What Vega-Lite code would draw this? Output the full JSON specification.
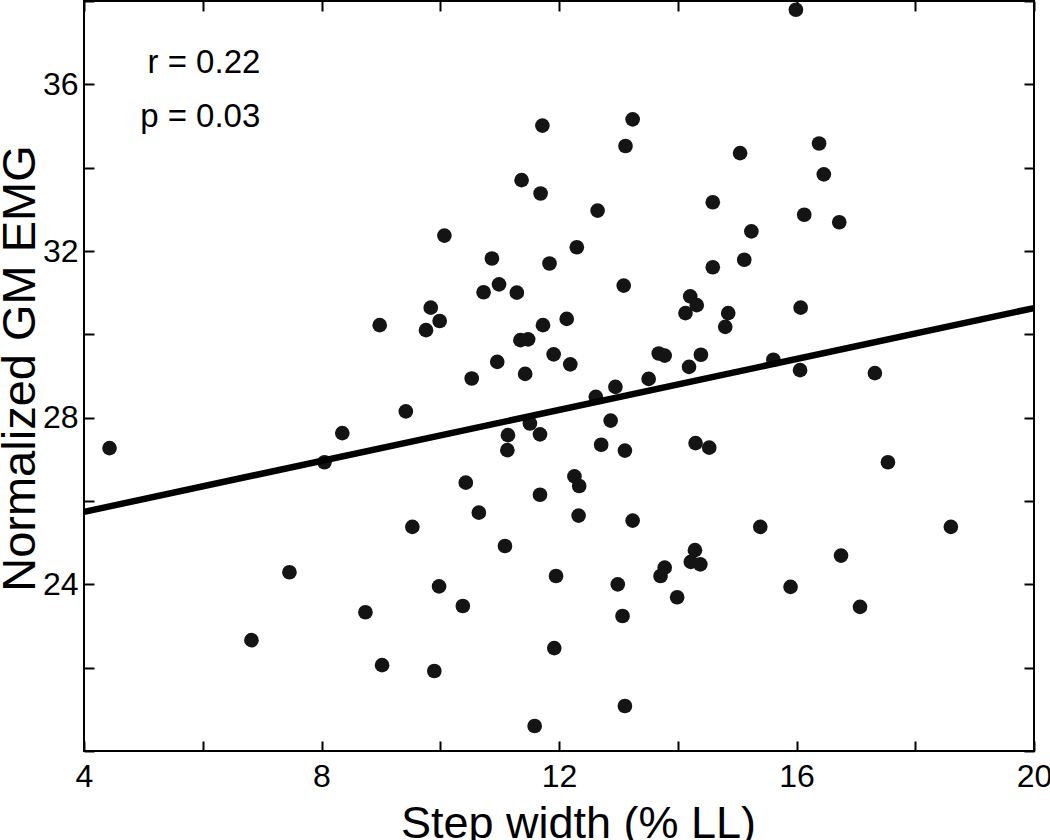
{
  "$schema": "https://vega.github.io/schema/vega-lite/v6.json",
  "width": 950,
  "height": 750,
  "autosize": "none",
  "padding": {"left": 84, "top": 1, "right": 16, "bottom": 89},
  "background": "white",
  "config": {
    "view": {"stroke": "black", "strokeWidth": 2},
    "font": "Liberation Sans",
    "axis": {
      "grid": false,
      "domain": false,
      "tickColor": "black",
      "tickWidth": 2,
      "tickSize": -10,
      "labelColor": "black",
      "labelFont": "Liberation Sans",
      "labelFontSize": 32,
      "labelFlush": false,
      "labelOverlap": false,
      "titleColor": "black",
      "titleFont": "Liberation Sans",
      "titleFontSize": 45,
      "titleFontWeight": "normal"
    }
  },
  "datasets": {
    "points": [
      {"step_width": 4.43, "gm_emg": 27.27},
      {"step_width": 6.82, "gm_emg": 22.66},
      {"step_width": 7.46, "gm_emg": 24.29},
      {"step_width": 8.05, "gm_emg": 26.93},
      {"step_width": 8.35, "gm_emg": 27.63},
      {"step_width": 8.74, "gm_emg": 23.33},
      {"step_width": 8.98, "gm_emg": 30.22},
      {"step_width": 9.02, "gm_emg": 22.06},
      {"step_width": 9.42, "gm_emg": 28.15},
      {"step_width": 9.53, "gm_emg": 25.38},
      {"step_width": 9.76, "gm_emg": 30.10},
      {"step_width": 9.84, "gm_emg": 30.64},
      {"step_width": 9.90, "gm_emg": 21.92},
      {"step_width": 9.98, "gm_emg": 23.95},
      {"step_width": 9.99, "gm_emg": 30.32},
      {"step_width": 10.07, "gm_emg": 32.37},
      {"step_width": 10.38, "gm_emg": 23.48},
      {"step_width": 10.43, "gm_emg": 26.44},
      {"step_width": 10.53, "gm_emg": 28.94},
      {"step_width": 10.65, "gm_emg": 25.72},
      {"step_width": 10.73, "gm_emg": 31.01},
      {"step_width": 10.87, "gm_emg": 31.82},
      {"step_width": 10.96, "gm_emg": 29.34},
      {"step_width": 10.99, "gm_emg": 31.20},
      {"step_width": 11.09, "gm_emg": 24.92},
      {"step_width": 11.13, "gm_emg": 27.22},
      {"step_width": 11.14, "gm_emg": 27.58},
      {"step_width": 11.29, "gm_emg": 31.00},
      {"step_width": 11.35, "gm_emg": 29.86},
      {"step_width": 11.37, "gm_emg": 33.70},
      {"step_width": 11.43, "gm_emg": 29.05},
      {"step_width": 11.48, "gm_emg": 29.88},
      {"step_width": 11.51, "gm_emg": 27.86},
      {"step_width": 11.59, "gm_emg": 20.60},
      {"step_width": 11.68, "gm_emg": 27.60},
      {"step_width": 11.68, "gm_emg": 26.15},
      {"step_width": 11.69, "gm_emg": 33.38},
      {"step_width": 11.72, "gm_emg": 35.01},
      {"step_width": 11.73, "gm_emg": 30.22},
      {"step_width": 11.84, "gm_emg": 31.70},
      {"step_width": 11.91, "gm_emg": 29.52},
      {"step_width": 11.92, "gm_emg": 22.47},
      {"step_width": 11.95, "gm_emg": 24.20},
      {"step_width": 12.13, "gm_emg": 30.37},
      {"step_width": 12.19, "gm_emg": 29.28},
      {"step_width": 12.26, "gm_emg": 26.59},
      {"step_width": 12.30, "gm_emg": 32.09},
      {"step_width": 12.33, "gm_emg": 25.65},
      {"step_width": 12.34, "gm_emg": 26.36},
      {"step_width": 12.62, "gm_emg": 28.50},
      {"step_width": 12.65, "gm_emg": 32.97},
      {"step_width": 12.71, "gm_emg": 27.35},
      {"step_width": 12.87, "gm_emg": 27.93},
      {"step_width": 12.95, "gm_emg": 28.74},
      {"step_width": 12.99, "gm_emg": 24.00},
      {"step_width": 13.07, "gm_emg": 23.24},
      {"step_width": 13.09, "gm_emg": 31.17},
      {"step_width": 13.11, "gm_emg": 27.21},
      {"step_width": 13.11, "gm_emg": 21.08},
      {"step_width": 13.12, "gm_emg": 34.52},
      {"step_width": 13.24, "gm_emg": 35.16},
      {"step_width": 13.24, "gm_emg": 25.53},
      {"step_width": 13.51, "gm_emg": 28.93},
      {"step_width": 13.68, "gm_emg": 29.54},
      {"step_width": 13.78, "gm_emg": 29.49},
      {"step_width": 13.71, "gm_emg": 24.20},
      {"step_width": 13.78, "gm_emg": 24.40},
      {"step_width": 13.99, "gm_emg": 23.69},
      {"step_width": 14.13, "gm_emg": 30.51},
      {"step_width": 14.19, "gm_emg": 29.22},
      {"step_width": 14.21, "gm_emg": 30.91},
      {"step_width": 14.22, "gm_emg": 24.54},
      {"step_width": 14.29, "gm_emg": 24.82},
      {"step_width": 14.30, "gm_emg": 27.39},
      {"step_width": 14.32, "gm_emg": 30.70},
      {"step_width": 14.38, "gm_emg": 24.48},
      {"step_width": 14.39, "gm_emg": 29.51},
      {"step_width": 14.53, "gm_emg": 27.28},
      {"step_width": 14.59, "gm_emg": 33.17},
      {"step_width": 14.59, "gm_emg": 31.61},
      {"step_width": 14.80, "gm_emg": 30.18},
      {"step_width": 14.85, "gm_emg": 30.51},
      {"step_width": 15.05, "gm_emg": 34.35},
      {"step_width": 15.12, "gm_emg": 31.79},
      {"step_width": 15.24, "gm_emg": 32.47},
      {"step_width": 15.39, "gm_emg": 25.38},
      {"step_width": 15.61, "gm_emg": 29.39},
      {"step_width": 15.90, "gm_emg": 23.94},
      {"step_width": 15.99, "gm_emg": 37.79},
      {"step_width": 16.06, "gm_emg": 29.14},
      {"step_width": 16.07, "gm_emg": 30.64},
      {"step_width": 16.13, "gm_emg": 32.87},
      {"step_width": 16.38, "gm_emg": 34.58},
      {"step_width": 16.46, "gm_emg": 33.84},
      {"step_width": 16.72, "gm_emg": 32.69},
      {"step_width": 16.75, "gm_emg": 24.69},
      {"step_width": 17.07, "gm_emg": 23.46},
      {"step_width": 17.32, "gm_emg": 29.07},
      {"step_width": 17.54, "gm_emg": 26.93},
      {"step_width": 18.60, "gm_emg": 25.38}
    ],
    "fit": [
      {"step_width": 4, "gm_emg": 25.74},
      {"step_width": 20, "gm_emg": 30.63}
    ],
    "notes": [
      {"step_width": 6.97, "gm_emg": 36.27, "label": "r = 0.22"},
      {"step_width": 6.97, "gm_emg": 34.97, "label": "p = 0.03"}
    ]
  },
  "layer": [
    {
      "data": {"name": "points"},
      "mark": {"type": "point", "shape": "circle", "filled": true, "size": 215, "color": "#141414", "opacity": 1},
      "encoding": {
        "x": {
          "field": "step_width", "type": "quantitative",
          "scale": {"domain": [4, 20], "nice": false, "zero": false},
          "axis": {
            "orient": "bottom",
            "values": [4, 6, 8, 10, 12, 14, 16, 18, 20],
            "labelExpr": "datum.value % 4 === 0 ? datum.label : ''",
            "labelPadding": 20,
            "title": "Step width (% LL)",
            "titleX": 494,
            "titleY": 86,
            "titleBaseline": "alphabetic",
            "titleAlign": "center"
          }
        },
        "y": {
          "field": "gm_emg", "type": "quantitative",
          "scale": {"domain": [20, 38], "nice": false, "zero": false},
          "axis": {
            "orient": "left",
            "values": [20, 22, 24, 26, 28, 30, 32, 34, 36, 38],
            "labelExpr": "datum.value % 4 === 0 && datum.value > 20 && datum.value < 38 ? datum.label : ''",
            "labelPadding": 16,
            "title": "Normalized GM EMG",
            "titleFontSize": 47,
            "titleX": -50,
            "titleY": 367,
            "titleBaseline": "alphabetic",
            "titleAlign": "center"
          }
        }
      }
    },
    {
      "data": {"name": "fit"},
      "mark": {"type": "line", "color": "black", "strokeWidth": 6.5},
      "encoding": {
        "x": {
          "field": "step_width", "type": "quantitative",
          "axis": {"orient": "top", "values": [4, 6, 8, 10, 12, 14, 16, 18, 20], "labels": false, "title": null}
        },
        "y": {
          "field": "gm_emg", "type": "quantitative",
          "axis": {"orient": "right", "values": [20, 22, 24, 26, 28, 30, 32, 34, 36, 38], "labels": false, "title": null}
        }
      }
    },
    {
      "data": {"name": "notes"},
      "mark": {"type": "text", "align": "right", "baseline": "alphabetic", "font": "Liberation Sans", "fontSize": 33, "color": "black"},
      "encoding": {
        "x": {"field": "step_width", "type": "quantitative", "axis": null},
        "y": {"field": "gm_emg", "type": "quantitative", "axis": null},
        "text": {"field": "label"}
      }
    }
  ],
  "resolve": {"axis": {"x": "independent", "y": "independent"}}
}
